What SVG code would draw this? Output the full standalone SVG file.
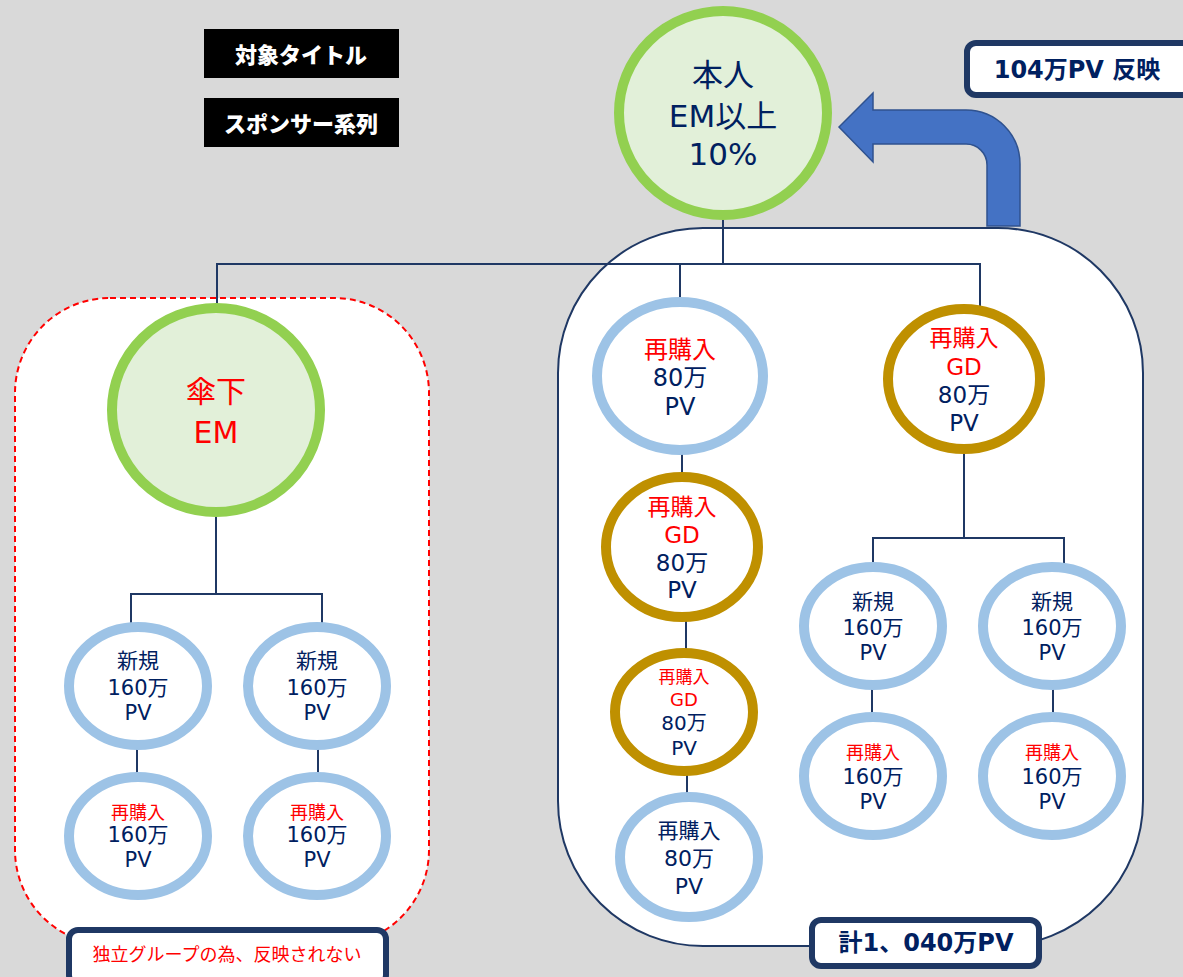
<svg xmlns="http://www.w3.org/2000/svg" width="1183" height="977" viewBox="0 0 1183 977">
<style>
text{font-family:"DejaVu Sans","Noto Sans CJK JP",sans-serif;text-anchor:middle;dominant-baseline:central;fill:#002060}
.r{fill:#ff0000}
.w{fill:#ffffff;font-weight:900;font-family:"Noto Sans CJK JP",sans-serif}
.b{font-weight:bold}
.lbl{fill:#ffffff;stroke:#1f3864;stroke-width:6}
.em{fill:#e2f0d9;stroke:#92d050;stroke-width:10}
.bl{fill:#ffffff;stroke:#9dc3e6;stroke-width:10}
.gd{fill:#ffffff;stroke:#bf9000;stroke-width:10}
.cn line{stroke:#1f3864;stroke-width:2}
</style>
<rect x="0" y="0" width="1183" height="977" fill="#d9d9d9"/>

<g id="containers">
<rect id="group-right" x="558" y="228" width="585" height="718" rx="145" fill="#ffffff" stroke="#1f3864" stroke-width="2"/>
<rect id="group-left" x="15" y="298" width="414" height="647" rx="95" fill="#ffffff" stroke="#ff0000" stroke-width="2" stroke-dasharray="6 4"/>
</g>

<g id="titles">
<rect x="204" y="29" width="195" height="49" fill="#000000"/>
<text class="w" x="301" y="53" font-size="22">対象タイトル</text>
<rect x="204" y="98" width="195" height="49" fill="#000000"/>
<text class="w" x="301" y="122" font-size="22">スポンサー系列</text>
</g>

<g id="connectors" class="cn">
<line x1="723" y1="215" x2="723" y2="264"/>
<line x1="216" y1="264" x2="981" y2="264"/>
<line x1="217" y1="263" x2="217" y2="306"/>
<line x1="680" y1="264" x2="680" y2="298"/>
<line x1="980" y1="264" x2="980" y2="306"/>
<line x1="216" y1="512" x2="216" y2="594"/>
<line x1="130" y1="594" x2="323" y2="594"/>
<line x1="131" y1="593" x2="131" y2="624"/>
<line x1="322" y1="593" x2="322" y2="624"/>
<line x1="137" y1="748" x2="137" y2="773"/>
<line x1="318" y1="748" x2="318" y2="773"/>
<line x1="682" y1="452" x2="682" y2="474"/>
<line x1="686" y1="620" x2="686" y2="651"/>
<line x1="687" y1="774" x2="687" y2="796"/>
<line x1="964" y1="452" x2="964" y2="538"/>
<line x1="872" y1="538" x2="1065" y2="538"/>
<line x1="873" y1="537" x2="873" y2="565"/>
<line x1="1064" y1="537" x2="1064" y2="565"/>
<line x1="872" y1="688" x2="872" y2="714"/>
<line x1="1053" y1="688" x2="1053" y2="714"/>
</g>

<g id="arrow">
<path d="M839,127 L873,93 L873,110 L966,110 A54,54 0 0 1 1020,164 L1020,226 L987,226 L987,165 A21,21 0 0 0 966,144 L873,144 L873,162 Z" fill="#4472c4" stroke="#2f528f" stroke-width="1.5"/>
</g>

<g id="node-self">
<ellipse class="em" cx="723" cy="113" rx="104" ry="102"/>
<text x="723" y="75" font-size="31">本人</text>
<text x="723" y="116" font-size="31">EM以上</text>
<text x="723" y="154" font-size="31">10%</text>
</g>

<g id="node-sub-em">
<ellipse class="em" cx="216" cy="410" rx="104" ry="102"/>
<text class="r" x="216" y="391" font-size="30">傘下</text>
<text class="r" x="216" y="432" font-size="30">EM</text>
</g>

<g id="node-l-new1">
<ellipse class="bl" cx="138" cy="686" rx="69" ry="59"/>
<text x="138" y="661" font-size="21">新規</text>
<text x="138" y="688" font-size="21">160万</text>
<text x="138" y="713" font-size="21">PV</text>
</g>
<g id="node-l-new2">
<ellipse class="bl" cx="317" cy="686" rx="69" ry="59"/>
<text x="317" y="661" font-size="21">新規</text>
<text x="317" y="688" font-size="21">160万</text>
<text x="317" y="713" font-size="21">PV</text>
</g>
<g id="node-l-re1">
<ellipse class="bl" cx="138" cy="836" rx="69" ry="59"/>
<text class="r" x="138" y="812" font-size="18">再購入</text>
<text x="138" y="835" font-size="21">160万</text>
<text x="138" y="860" font-size="21">PV</text>
</g>
<g id="node-l-re2">
<ellipse class="bl" cx="317" cy="836" rx="69" ry="59"/>
<text class="r" x="317" y="812" font-size="18">再購入</text>
<text x="317" y="835" font-size="21">160万</text>
<text x="317" y="860" font-size="21">PV</text>
</g>

<g id="node-re-a">
<ellipse class="bl" cx="680" cy="376" rx="83" ry="74" stroke-width="11"/>
<text class="r" x="680" y="350" font-size="24">再購入</text>
<text x="680" y="378" font-size="24">80万</text>
<text x="680" y="407" font-size="24">PV</text>
</g>
<g id="node-gd-b">
<ellipse class="gd" cx="682" cy="547" rx="76" ry="70"/>
<text class="r" x="682" y="507" font-size="23">再購入</text>
<text class="r" x="682" y="535" font-size="23">GD</text>
<text x="682" y="563" font-size="23">80万</text>
<text x="682" y="590" font-size="23">PV</text>
</g>
<g id="node-gd-c">
<ellipse class="gd" cx="684" cy="712" rx="69" ry="59"/>
<text class="r" x="684" y="677" font-size="17">再購入</text>
<text class="r" x="684" y="699" font-size="18">GD</text>
<text x="684" y="723" font-size="20">80万</text>
<text x="684" y="748" font-size="20">PV</text>
</g>
<g id="node-re-d">
<ellipse class="bl" cx="689" cy="857" rx="69" ry="60"/>
<text x="689" y="831" font-size="21">再購入</text>
<text x="689" y="858" font-size="22">80万</text>
<text x="689" y="886" font-size="22">PV</text>
</g>

<g id="node-gd-r">
<ellipse class="gd" cx="964" cy="379" rx="76" ry="70"/>
<text class="r" x="964" y="338" font-size="23">再購入</text>
<text class="r" x="964" y="367" font-size="23">GD</text>
<text x="964" y="395" font-size="23">80万</text>
<text x="964" y="423" font-size="23">PV</text>
</g>
<g id="node-r-new1">
<ellipse class="bl" cx="873" cy="626" rx="69" ry="59"/>
<text x="873" y="602" font-size="21">新規</text>
<text x="873" y="628" font-size="21">160万</text>
<text x="873" y="653" font-size="21">PV</text>
</g>
<g id="node-r-new2">
<ellipse class="bl" cx="1052" cy="626" rx="69" ry="59"/>
<text x="1052" y="602" font-size="21">新規</text>
<text x="1052" y="628" font-size="21">160万</text>
<text x="1052" y="653" font-size="21">PV</text>
</g>
<g id="node-r-re1">
<ellipse class="bl" cx="873" cy="776" rx="69" ry="59"/>
<text class="r" x="873" y="752" font-size="18">再購入</text>
<text x="873" y="777" font-size="21">160万</text>
<text x="873" y="802" font-size="21">PV</text>
</g>
<g id="node-r-re2">
<ellipse class="bl" cx="1052" cy="776" rx="69" ry="59"/>
<text class="r" x="1052" y="752" font-size="18">再購入</text>
<text x="1052" y="777" font-size="21">160万</text>
<text x="1052" y="802" font-size="21">PV</text>
</g>

<g id="label-reflect">
<rect class="lbl" x="967" y="43" width="226" height="52" rx="9"/>
<text class="b" x="1077" y="70" font-size="24">104万PV 反映</text>
</g>
<g id="label-total">
<rect class="lbl" x="812" y="920" width="227" height="46" rx="9"/>
<text class="b" x="926" y="943" font-size="24">計1、040万PV</text>
</g>
<g id="label-independent">
<rect class="lbl" x="69" y="930" width="317" height="54" rx="9"/>
<text class="r" x="227" y="954" font-size="18">独立グループの為、反映されない</text>
</g>
</svg>
